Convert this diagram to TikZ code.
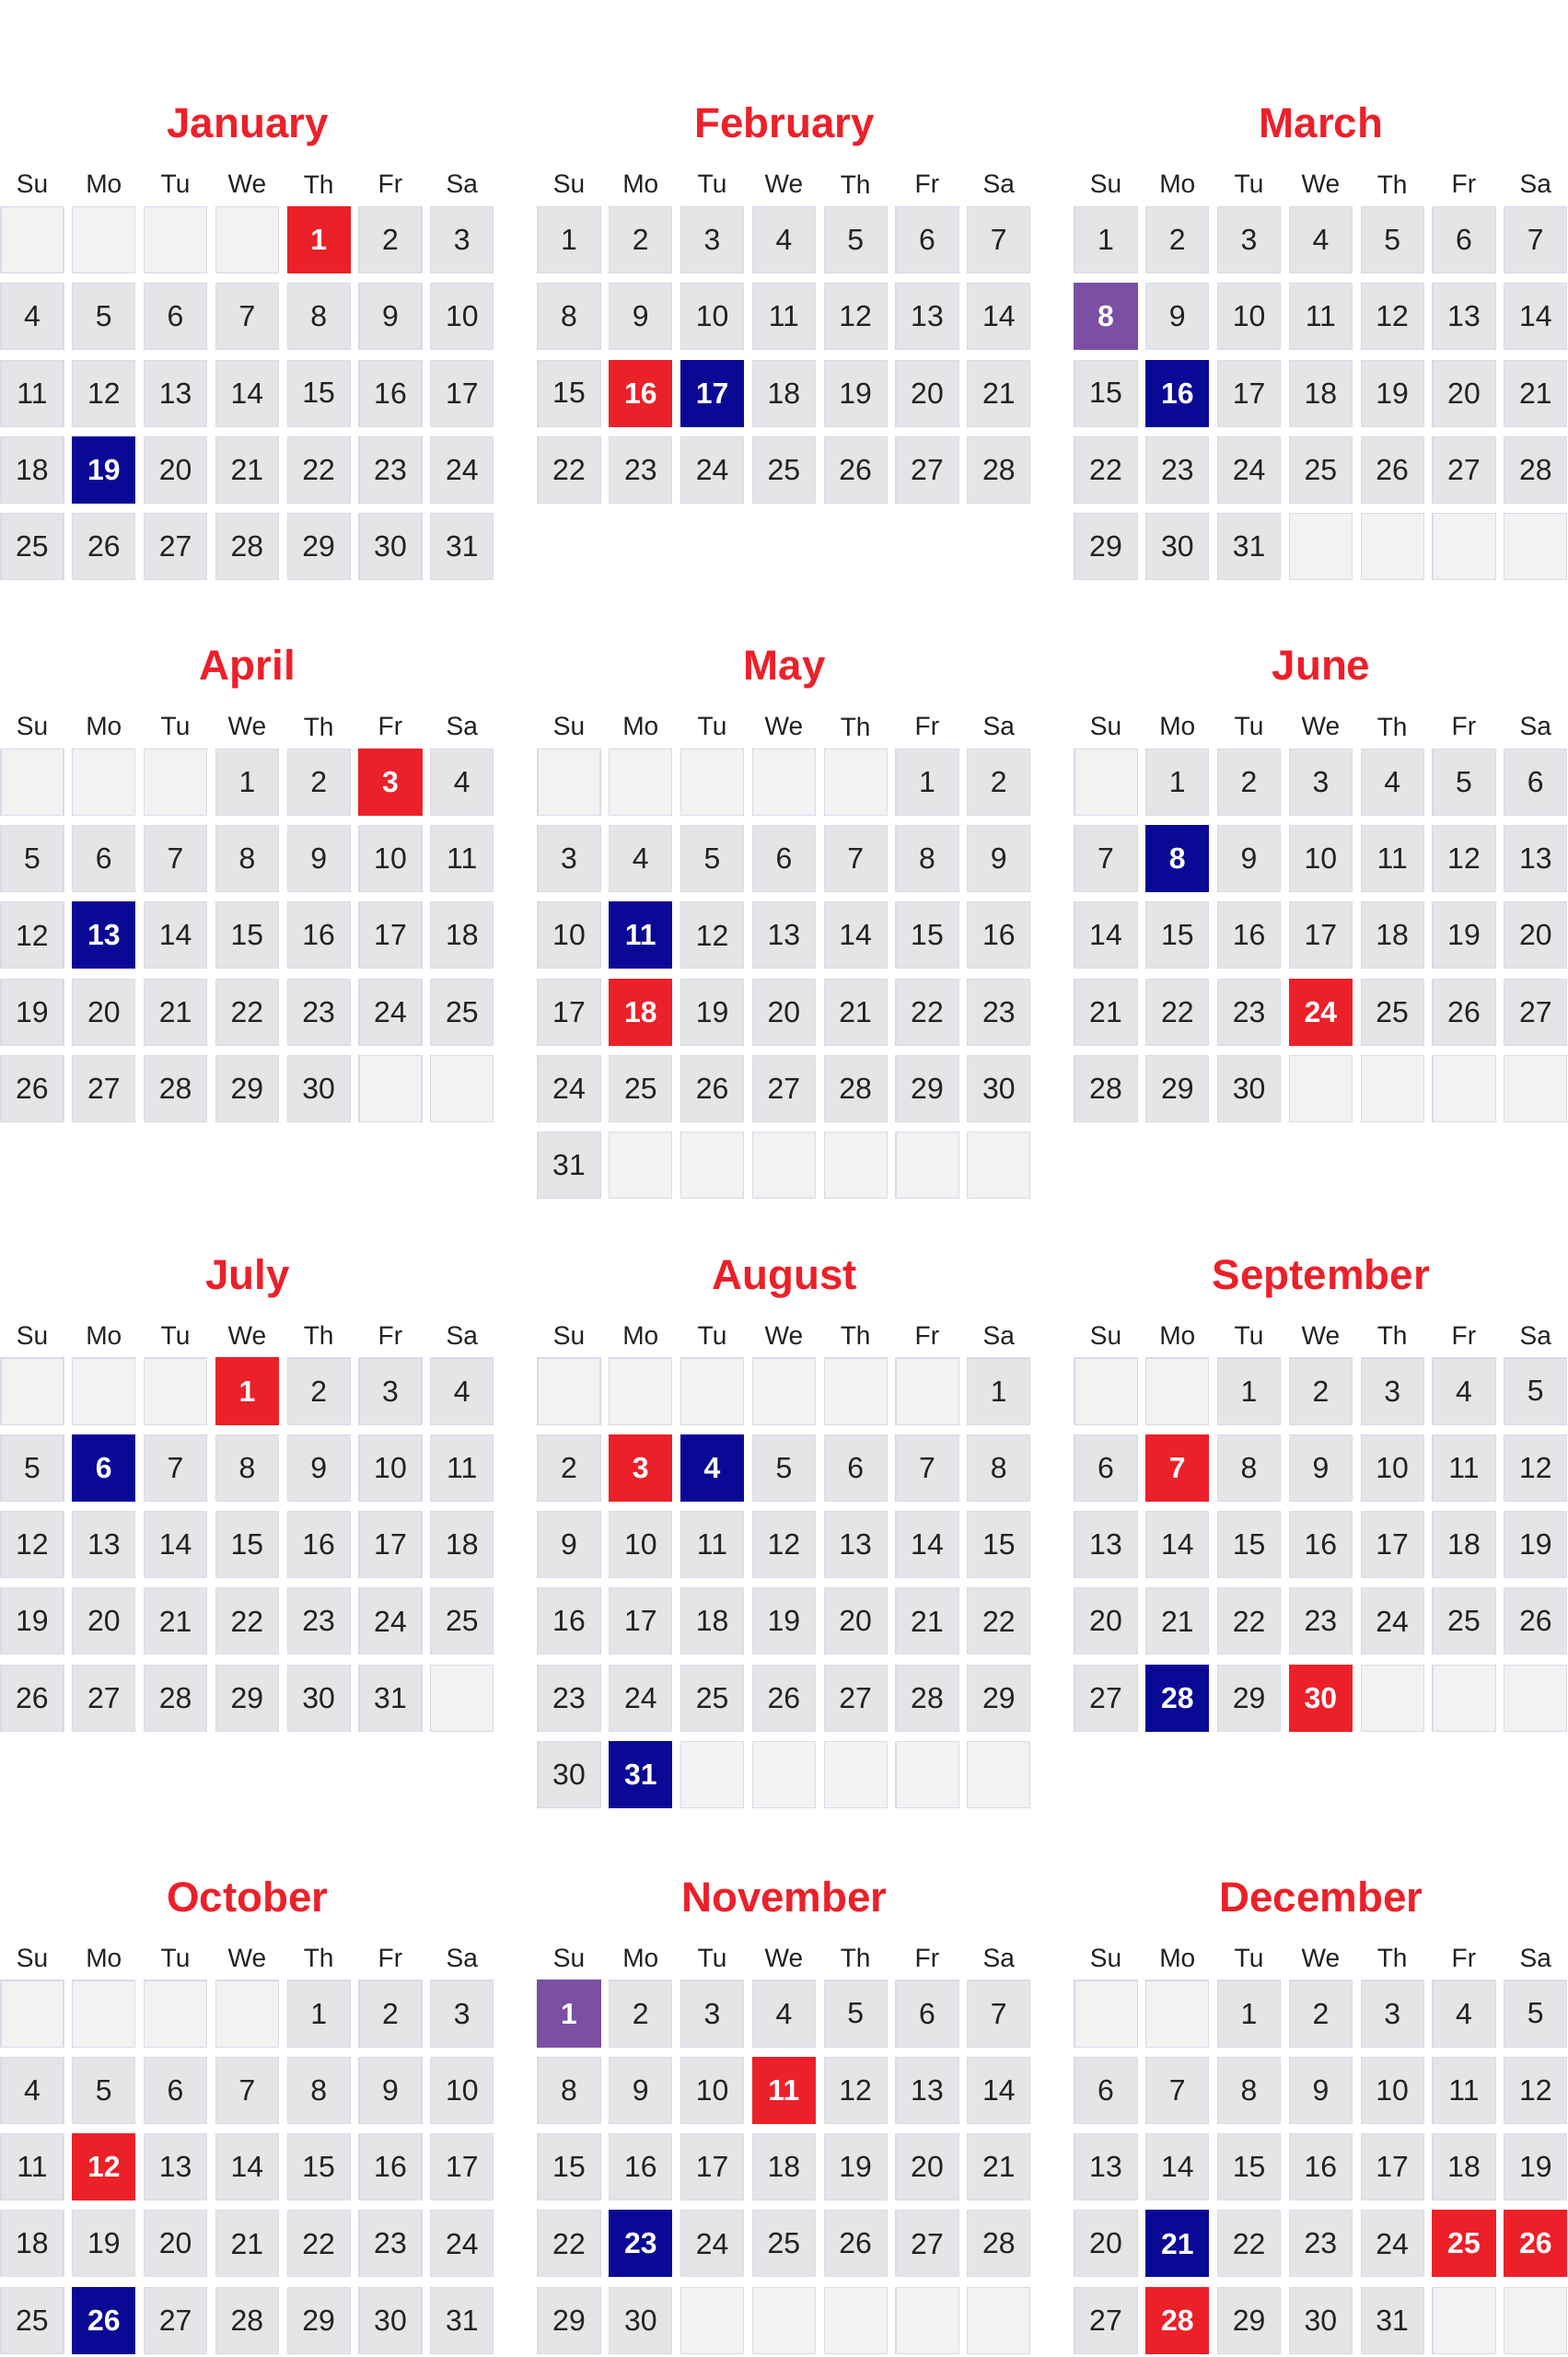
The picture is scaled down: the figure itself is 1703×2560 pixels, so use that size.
\documentclass[tikz,border=0pt]{standalone}
\usepackage{fontspec}
\setmainfont{Liberation Sans}
\definecolor{holired}{HTML}{EC2029}
\definecolor{navyday}{HTML}{0A0996}
\definecolor{lilacday}{HTML}{7B4FA3}
\definecolor{daygray}{HTML}{E4E5E7}
\definecolor{blankgray}{HTML}{F1F2F2}
\definecolor{cellrim}{HTML}{DCD8EA}
\definecolor{numink}{HTML}{222222}
% one month: tag, title, left x, top of first row, weekday of the 1st, days
\def\calmonth#1#2#3#4#5#6{%
  \node [monthtitle] at (#3+268,#4-75) (#1) {#2};
  \foreach \dname [count=\cx from 0] in {Su,Mo,Tu,We,Th,Fr,Sa}
    \node [dayname] at (#3+34+77.8*\cx,#4-24.5) (#1-\dname) {\dname};
  \pgfmathtruncatemacro\lastcell{7*ceil((#5+#6)/7)-1}
  \foreach \k in {0,...,\lastcell}{%
    \pgfmathtruncatemacro\dayno{\k-#5+1}
    \pgfmathtruncatemacro\cx{mod(\k,7)}
    \pgfmathtruncatemacro\ry{div(\k,7)}
    \ifnum\dayno<1 \node [blankcell] at (#3+34+77.8*\cx,#4+36+83.3*\ry) (#1-x\k) {};
    \else\ifnum\dayno>#6 \node [blankcell] at (#3+34+77.8*\cx,#4+36+83.3*\ry) (#1-x\k) {};
    \else \node [daycell,#1-\dayno/.try] at (#3+34+77.8*\cx,#4+36+83.3*\ry) (#1-\dayno) {\dayno};
    \fi\fi}%
}

\begin{document}
\begin{tikzpicture}[x=0.01cm,y=-0.01cm,
   monthtitle/.style={anchor=base,text=holired,font=\fontsize{13}{15}\selectfont\bfseries},
   dayname/.style={text=numink,font=\fontsize{8}{10}\selectfont},
   daycell/.style={rectangle,minimum width=0.68cm,minimum height=0.72cm,inner sep=0pt,
      fill=daygray,draw=cellrim,line width=0.3pt,text=numink,font=\fontsize{9.1}{11}\selectfont},
   blankcell/.style={daycell,fill=blankgray},
   holiday/.style={fill=holired,draw=holired,text=white,font=\fontsize{9.1}{11}\selectfont\bfseries},
   federal/.style={fill=navyday,draw=navyday,text=white,font=\fontsize{9.1}{11}\selectfont\bfseries},
   special/.style={fill=lilacday,draw=lilacday,text=white,font=\fontsize{9.1}{11}\selectfont\bfseries},
   jan-1/.style=holiday, jan-19/.style=federal,
   feb-16/.style=holiday, feb-17/.style=federal,
   mar-8/.style=special, mar-16/.style=federal,
   apr-3/.style=holiday, apr-13/.style=federal,
   may-11/.style=federal, may-18/.style=holiday,
   jun-8/.style=federal, jun-24/.style=holiday,
   jul-1/.style=holiday, jul-6/.style=federal,
   aug-3/.style=holiday, aug-4/.style=federal, aug-31/.style=federal,
   sep-7/.style=holiday, sep-28/.style=federal, sep-30/.style=holiday,
   oct-12/.style=holiday, oct-26/.style=federal,
   nov-1/.style=special, nov-11/.style=holiday, nov-23/.style=federal,
   dec-21/.style=federal, dec-25/.style=holiday, dec-26/.style=holiday, dec-28/.style=holiday]
\useasboundingbox (0,0) rectangle (1703,2560);
%
\calmonth{jan}{January}{1}{224.5}{4}{31}
\calmonth{feb}{February}{584}{224.5}{0}{28}
\calmonth{mar}{March}{1167}{224.5}{0}{31}
%
\calmonth{apr}{April}{1}{813.3}{3}{30}
\calmonth{may}{May}{584}{813.3}{5}{31}
\calmonth{jun}{June}{1167}{813.3}{1}{30}
%
\calmonth{jul}{July}{1}{1475}{3}{31}
\calmonth{aug}{August}{584}{1475}{6}{31}
\calmonth{sep}{September}{1167}{1475}{2}{30}
%
\calmonth{oct}{October}{1}{2151}{4}{31}
\calmonth{nov}{November}{584}{2151}{0}{30}
\calmonth{dec}{December}{1167}{2151}{2}{31}

\end{tikzpicture}
\end{document}
